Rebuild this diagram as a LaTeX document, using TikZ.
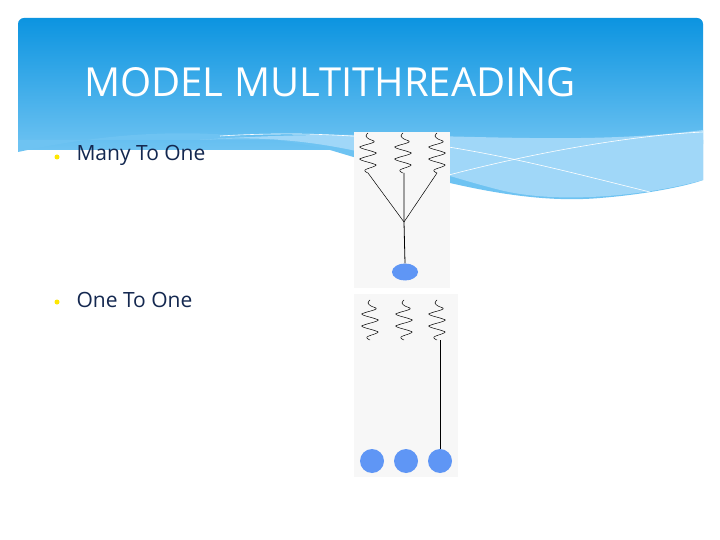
\documentclass[tikz,border=0pt]{standalone}
\usepackage{fontspec}
\usetikzlibrary{shapes.geometric}
\setmainfont{Open Sans}
\definecolor{topblue}{RGB}{12,148,224}
\definecolor{lowblue}{RGB}{110,195,242}
\definecolor{paleblue}{RGB}{160,215,248}
\definecolor{dotblue}{RGB}{95,150,245}
\definecolor{boxgray}{RGB}{247,247,247}
\definecolor{navy}{RGB}{20,40,80}
\tikzset{
  coil/.pic={\draw[black,line width=0.5pt] plot[smooth,tension=0.7] coordinates {(0,0)(-2,3)(1,6)(6,9)(-6,13)(-7,15)(6,19)(7,21)(-6,25)(-7,27)(6,31)(7,33)(-3,37)(0,40)};},
  lbl/.style={font=\fontsize{21}{24}\selectfont,text=navy,anchor=west},
  bul/.style={circle,fill=yellow!90!orange,inner sep=0pt,minimum size=5pt}
}
\begin{document}
\begin{tikzpicture}[x=1pt,y=-1pt]
\useasboundingbox (0,0) rectangle (720,540);
\fill[white] (0,0) rectangle (720,540);
\shade[top color=topblue,bottom color=lowblue,rounded corners=6pt]
  (18,150) -- (18,18) -- (703,18) -- (703,150) -- cycle;
\fill[lowblue] (18,140) -- (18,152) .. controls (120,130) and (220,125) .. (330,150)
  .. controls (430,180) and (520,205) .. (600,198) .. controls (650,194) and (690,185) .. (703,180) -- (703,140) -- cycle;
\fill[paleblue] (200,140) .. controls (400,125) and (550,150) .. (703,130) -- (703,180)
  .. controls (650,195) and (560,205) .. (500,190) .. controls (420,170) and (330,130) .. (200,140);
\draw[white,line width=0.6pt] (220,136) .. controls (400,125) and (520,160) .. (650,192);
\draw[white,line width=0.6pt] (430,180) .. controls (540,150) and (640,135) .. (703,132);
\node[font=\fontsize{40}{44}\selectfont,text=white,anchor=west,inner sep=0pt] (title) at (84,82) {MODEL MULTITHREADING};
\node[bul] (b1) at (57,157) {};
\node[lbl] (t1) at (73,155) {Many To One};
\node[bul] (b2) at (57,302) {};
\node[lbl] (t2) at (73,300) {One To One};
% box 1
\fill[boxgray] (354,132) rectangle (450,288);
\pic at (368,133) {coil};
\pic at (403,133) {coil};
\pic at (437,133) {coil};
\coordinate (a1) at (368,173);
\coordinate (a2) at (404,173);
\coordinate (a3) at (437,173);
\coordinate (j) at (404,222);
\node[ellipse,fill=dotblue,minimum width=26pt,minimum height=17pt,inner sep=0pt] (p1) at (405,272) {};
\draw[line width=0.5pt] (a1) -- (j) (a3) -- (j);
\draw[line width=0.8pt] (a2) -- (j) -- (p1.north);
% box 2
\fill[boxgray] (354,294) rectangle (458,477);
\pic at (370,300) {coil};
\pic at (404,300) {coil};
\pic at (437,300) {coil};
\coordinate (c3) at (440,340);
\node[circle,fill=dotblue,minimum size=24pt,inner sep=0pt] (q1) at (372,461) {};
\node[circle,fill=dotblue,minimum size=24pt,inner sep=0pt] (q2) at (406,461) {};
\node[circle,fill=dotblue,minimum size=24pt,inner sep=0pt] (q3) at (440,461) {};
\draw[line width=0.8pt] (c3) -- (q3.north);
\end{tikzpicture}
\end{document}
